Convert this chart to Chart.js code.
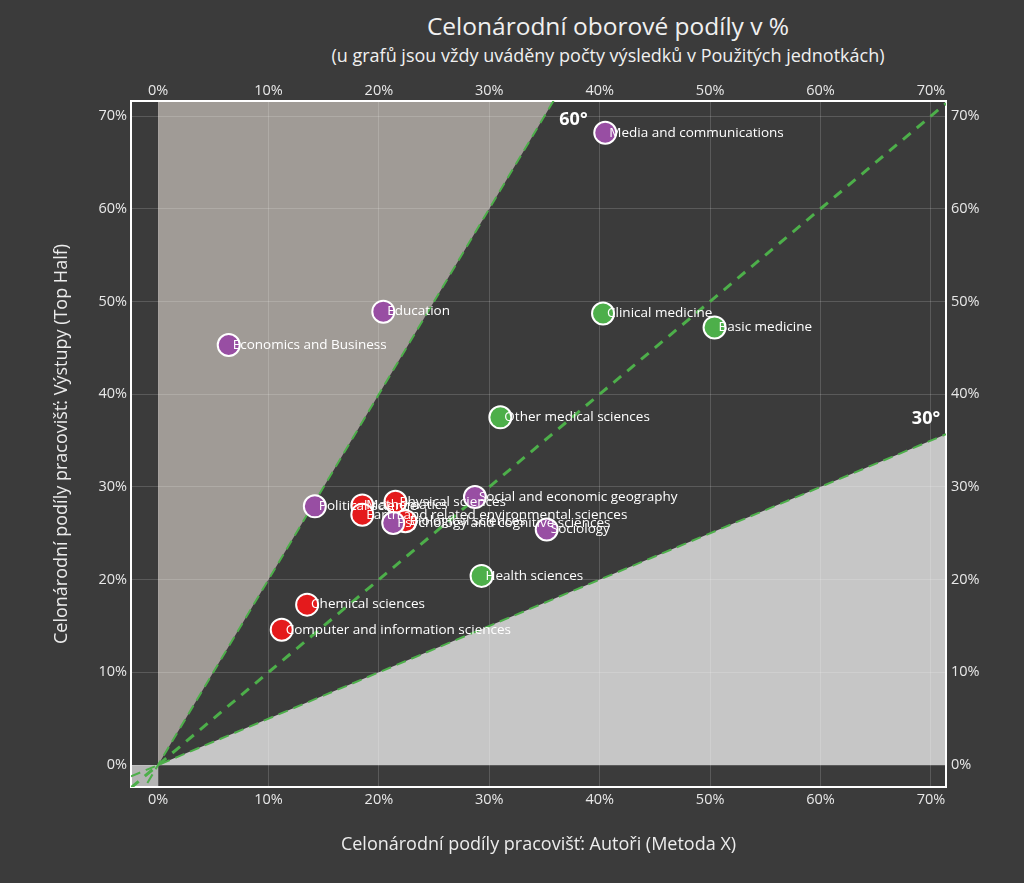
<!DOCTYPE html>
<html>
<head>
<meta charset="utf-8">
<script src="https://cdn.jsdelivr.net/npm/chart.js@4.4.0/dist/chart.umd.min.js"></script>
<style>
  body { margin: 0; background: #3b3b3b; overflow: hidden; font-family: "Open Sans", sans-serif; }
  #wrap { position: relative; width: 1024px; height: 883px; }
  .title { position: absolute; left: 0; width: 1216px; text-align: center; color: #f0f0f0; white-space: nowrap; }
  #t1 { top: 9px; font-size: 24.5px; }
  #t2 { top: 43px; font-size: 18px; }
  canvas { position: absolute; left: 0; top: 0; }
</style>
</head>
<body>
<div id="wrap">
  <div class="title" id="t1">Celonárodní oborové podíly v %</div>
  <div class="title" id="t2">(u grafů jsou vždy uváděny počty výsledků v Použitých jednotkách)</div>
  <canvas id="chart" width="1024" height="883"></canvas>
</div>
<script>
// tick labels (both axes)
const tickValues = [0, 10, 20, 30, 40, 50, 60, 70];
const xMin = -2.45, xMax = 71.36;
const yMin = -2.37, yMax = 71.62;

// purple group
const purpleNames = ['Media and communications', 'Education', 'Economics and Business', 'Political science',
  'Social and economic geography', 'Sociology', 'Psychology and cognitive sciences'];
const purpleX = [40.5, 20.4, 6.4, 14.2, 28.7, 35.2, 21.3];
const purpleY = [68.2, 48.9, 45.3, 27.9, 28.9, 25.4, 26.1];

// red group
const redNames = ['Mathematics', 'Physical sciences', 'Earth and related environmental sciences',
  'Biological sciences', 'Chemical sciences', 'Computer and information sciences'];
const redX = [18.5, 21.5, 18.5, 22.4, 13.5, 11.2];
const redY = [28.0, 28.4, 27.0, 26.3, 17.3, 14.6];

// green group
const greenNames = ['Clinical medicine', 'Basic medicine', 'Other medical sciences', 'Health sciences'];
const greenX = [40.3, 50.4, 31.0, 29.3];
const greenY = [48.7, 47.2, 37.5, 20.4];

// reference lines: slope of "60°" and "30°" boundaries and the diagonal
const steepSlope = 2;
const flatSlope = 0.5;

const pts = (xs, ys) => xs.map((x, i) => ({ x: x, y: ys[i] }));
const line = (k) => [{ x: xMin, y: xMin * k }, { x: xMax, y: xMax * k }];

const lineGreen = '#4daf4a';

const pointLabels = {
  id: 'pointLabels',
  afterDatasetsDraw(chart) {
    const ctx = chart.ctx;
    ctx.save();
    ctx.fillStyle = '#ffffff';
    ctx.font = '13.5px "Open Sans"';
    ctx.textBaseline = 'middle';
    ctx.textAlign = 'left';
    chart.data.datasets.forEach((ds, di) => {
      if (!ds.names) return;
      chart.getDatasetMeta(di).data.forEach((el, i) => {
        ctx.fillText(ds.names[i], el.x + 4, el.y);
      });
    });
    // angle labels
    const xs = chart.scales.x, ys = chart.scales.y;
    ctx.font = 'bold 18px "Open Sans"';
    ctx.textAlign = 'center';
    ctx.fillText('60°', xs.getPixelForValue(yMax / steepSlope) + 20, ys.getPixelForValue(yMax) + 19);
    ctx.fillText('30°', xs.getPixelForValue(xMax) - 20, ys.getPixelForValue(xMax * flatSlope) - 15);
    ctx.restore();
  }
};

const tickFont = { family: 'Open Sans', size: 14.5 };
const tickColor = '#e8e8e8';
const gridColor = 'rgba(255,255,255,0.16)';
const setTicks = (s) => { s.ticks = tickValues.map(v => ({ value: v })); };

new Chart(document.getElementById('chart'), {
  type: 'scatter',
  data: {
    datasets: [
      { names: purpleNames, data: pts(purpleX, purpleY), backgroundColor: '#984ea3', borderColor: '#ffffff',
        borderWidth: 2, pointRadius: 11, order: 1 },
      { names: redNames, data: pts(redX, redY), backgroundColor: '#e41a1c', borderColor: '#ffffff',
        borderWidth: 2, pointRadius: 11, order: 1 },
      { names: greenNames, data: pts(greenX, greenY), backgroundColor: '#4daf4a', borderColor: '#ffffff',
        borderWidth: 2, pointRadius: 11, order: 1 },
      // shaded areas
      { type: 'line', data: [{ x: 0, y: 0 }, { x: yMax / steepSlope, y: yMax }], fill: 'end',
        backgroundColor: '#a09b96', borderWidth: 0, pointRadius: 0, order: 5, clip: 0 },
      { type: 'line', data: [{ x: 0, y: 0 }, { x: xMax, y: xMax * flatSlope }], fill: 'origin',
        backgroundColor: '#c6c6c6', borderWidth: 0, pointRadius: 0, order: 5, clip: 0 },
      { type: 'line', data: [{ x: xMin, y: 0 }, { x: 0, y: 0 }], fill: 'start',
        backgroundColor: '#b4b4b4', borderWidth: 0, pointRadius: 0, order: 5, clip: 0 },
      // dashed lines
      { type: 'line', data: line(1), borderColor: lineGreen, borderWidth: 3, borderDash: [10, 8],
        pointRadius: 0, fill: false, order: 3, clip: 0 },
      { type: 'line', data: line(steepSlope), borderColor: lineGreen, borderWidth: 2, borderDash: [10, 6],
        pointRadius: 0, fill: false, order: 3, clip: 0 },
      { type: 'line', data: line(flatSlope), borderColor: lineGreen, borderWidth: 2, borderDash: [10, 6],
        pointRadius: 0, fill: false, order: 3, clip: 0 }
    ]
  },
  options: {
    responsive: false,
    animation: false,
    devicePixelRatio: 1,
    layout: { padding: { top: 70, left: 47, right: 0, bottom: 23 } },
    plugins: {
      legend: { display: false },
      tooltip: { enabled: false },
      filler: { drawTime: 'beforeDraw' }
    },
    scales: {
      x: {
        type: 'linear', position: 'bottom', min: xMin, max: xMax,
        afterBuildTicks: setTicks,
        afterFit: (s) => { s.height = 73; },
        grid: { color: gridColor, drawTicks: false },
        border: { color: '#ffffff', width: 2 },
        ticks: { color: tickColor, font: tickFont, padding: 4, maxRotation: 0, callback: v => v + '%' },
        title: { display: true, text: 'Celonárodní podíly pracovišť: Autoři (Metoda X)', color: '#ececec',
          font: { family: 'Open Sans', size: 18 } }
      },
      x2: {
        type: 'linear', position: 'top', min: xMin, max: xMax,
        afterBuildTicks: setTicks,
        afterFit: (s) => { s.height = 31; },
        grid: { display: false, drawTicks: false },
        border: { color: '#ffffff', width: 2 },
        ticks: { color: tickColor, font: tickFont, padding: 1, maxRotation: 0, callback: v => v + '%' }
      },
      y: {
        type: 'linear', position: 'left', min: yMin, max: yMax,
        afterBuildTicks: setTicks,
        afterFit: (s) => { s.width = 84; },
        grid: { color: gridColor, drawTicks: false },
        border: { color: '#ffffff', width: 2 },
        ticks: { color: tickColor, font: tickFont, padding: 4, callback: v => v + '%' },
        title: { display: true, text: 'Celonárodní podíly pracovišť: Výstupy (Top Half)', color: '#ececec',
          font: { family: 'Open Sans', size: 18 } }
      },
      y2: {
        type: 'linear', position: 'right', min: yMin, max: yMax,
        afterBuildTicks: setTicks,
        afterFit: (s) => { s.width = 78; },
        grid: { display: false, drawTicks: false },
        border: { color: '#ffffff', width: 2 },
        ticks: { color: tickColor, font: tickFont, padding: 5, callback: v => v + '%' }
      }
    }
  },
  plugins: [pointLabels]
});
</script>
</body>
</html>
